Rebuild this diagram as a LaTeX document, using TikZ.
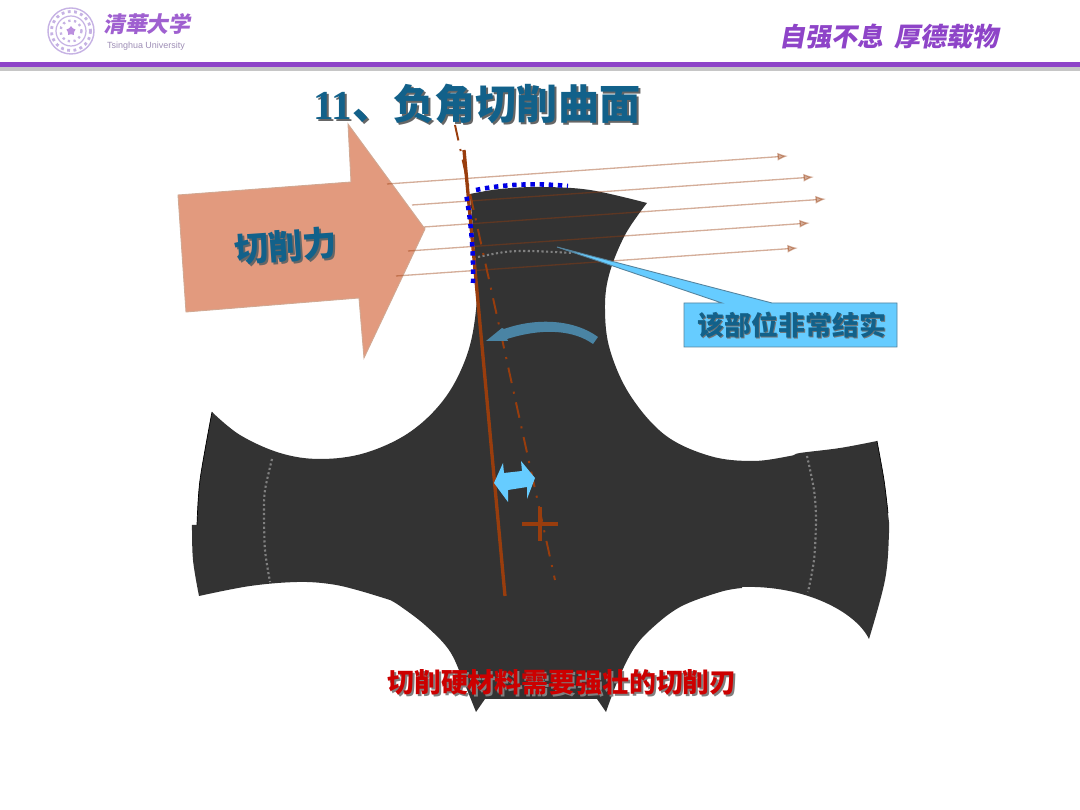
\documentclass[tikz,border=0pt]{standalone}
\usepackage{fontspec}
\usepackage{xcolor}
\setmainfont{Noto Sans CJK SC}
\newfontfamily\cjkslant[FakeSlant=0.18]{Noto Sans CJK SC}
\newfontfamily\latinserif{Liberation Serif}
\newfontfamily\latinsans{Liberation Sans}
\usetikzlibrary{arrows.meta, positioning, shapes.geometric}
\definecolor{mypurple}{HTML}{8E44C8}
\definecolor{mylogo}{HTML}{C6B2E4}
\definecolor{myrust}{HTML}{993D0D}
\definecolor{mygear}{HTML}{333333}
\definecolor{mysalmon}{HTML}{E29A7E}
\definecolor{myteal}{HTML}{12618A}
\definecolor{mysky}{HTML}{66CCFF}
\definecolor{mysteel}{HTML}{4A84A4}

\begin{document}
\begin{tikzpicture}[
  x=0.02cm, y=-0.02cm,
  force/.style={draw=myrust, opacity=0.42, line width=0.75pt, -{Latex[length=6pt,width=4.5pt]}},
  seam/.style={draw=gray, line width=1.2pt, dash pattern=on 1.2pt off 1.4pt},
  edgedots/.style={blue!90!black, line width=2.6pt, dash pattern=on 2.5pt off 2.7pt},
  capt/.style={font=\bfseries, inner sep=0pt}
]
\useasboundingbox (0,0) rectangle (1080,810);
\fill[white] (0,0) rectangle (1080,810);

% Header
\fill[gray!45] (0,67) rectangle (1080,71);
\fill[mypurple] (0,62) rectangle (1080,67);
\draw[mylogo, line width=0.8pt] (71,31) circle (23);
\draw[mylogo, line width=1.6pt, dotted] (71,31) circle (19.5);
\draw[mylogo, line width=0.7pt] (71,31) circle (15);
\draw[mylogo, line width=1.3pt, dotted] (71,31) circle (10.5);
\node[star, fill=mypurple!60, inner sep=0pt, minimum size=5.5pt] (seal) at (71,31) {};
\node[font=\cjkslant\bfseries\fontsize{12.5}{12.5}\selectfont, text=mypurple!85, inner sep=0pt] (logo) at (147,24) {清華大学};
\node[font=\latinsans\fontsize{5.1}{5.1}\selectfont, text=mylogo!80!black, inner sep=0pt] (logoen) at (146,46) {Tsinghua University};
\node[font=\cjkslant\bfseries\fontsize{14.8}{14.8}\selectfont, text=mypurple, inner sep=0pt] (motto) at (889,37) {自强不息\hspace{6pt}厚德载物};

% Title
\node[capt, font=\fontsize{23.4}{23.4}\selectfont\bfseries, text=black!60] (titleb) at (479,106) {{\latinserif 11}、负角切削曲面};
\node[capt, font=\fontsize{23.4}{23.4}\selectfont\bfseries, text=myteal] (title) at (477,104) {{\latinserif 11}、负角切削曲面};

% Gear body
\fill[mygear] plot[smooth, tension=0.6] coordinates {(470,194) (500,189) (540,187) (590,190) (647,203)}
  -- plot[smooth, tension=0.6] coordinates {(647,203) (625,235) (609,275) (605,310) (610,350) (630,395) (665,435) (710,456) (753,461) (790,456) (800,453) (840,448) (877,441)}
  -- plot[smooth, tension=0.6] coordinates {(877,441) (884,480) (888,513) (889,533) (885,580) (869,639)}
  .. controls (856,612) and (805,585) .. (742,587)
  -- plot[smooth, tension=0.6] coordinates {(742,588) (720,592) (680,607) (650,630) (633,650) (618,680) (606,712)}
  -- (597,699) -- (485,699) -- (476,712)
  -- plot[smooth, tension=0.6] coordinates {(476,712) (463,680) (449,650) (425,625) (400,606) (390,600)}
  -- plot[smooth, tension=0.6] coordinates {(390,600) (357,590) (330,584) (297,582) (250,586) (199,596)}
  -- plot[smooth, tension=0.6] coordinates {(199,596) (193,560) (192,525)}
  -- (197,525)
  -- plot[smooth, tension=0.6] coordinates {(197,525) (200,480) (212,412)}
  -- plot[smooth, tension=0.6] coordinates {(212,412) (240,435) (280,453) (320,459) (365,453) (410,432) (445,398) (467,355) (476,310) (476,270) (470,194)}
  -- cycle;
\draw[black, line width=0.4pt] plot[smooth] coordinates {(197,525) (200,480) (212,412)};
\draw[black, line width=0.4pt] plot[smooth] coordinates {(877,441) (884,480) (888,513)};
\draw[seam] plot[smooth] coordinates {(272,459) (265,490) (264,513) (265,550) (270,582)};
\draw[seam] plot[smooth] coordinates {(807,456) (814,490) (816,520) (814,560) (808,592)};
\draw[seam] plot[smooth] coordinates {(478,257) (505,252) (530,251) (573,253)};

% Cutting force
\draw[fill=mysalmon, draw=myrust!45, line width=0.5pt] (178,195) -- (351,182) -- (348,124) -- (425,229) -- (364,358) -- (359,298) -- (186,312) -- cycle;
\node[capt, font=\fontsize{19.5}{19.5}\selectfont\bfseries, text=black!60, rotate=4] (forceb) at (288,248) {切削力};
\node[capt, font=\fontsize{19.5}{19.5}\selectfont\bfseries, text=myteal, rotate=4] (force) at (286,246) {切削力};
\draw[force] (387,184) -- (788,156);
\draw[force] (412,205) -- (814,177);
\draw[force] (424,227) -- (826,199);
\draw[force] (408,251) -- (810,223);
\draw[force] (396,276) -- (798,248);

% Rake line and centre line
\draw[myrust, line width=1.9pt] (464,150) -- (505,596);
\draw[myrust, line width=1.1pt, dash pattern=on 9pt off 5pt on 1.2pt off 5pt] (455,125) -- (555,580);
\draw[myrust, line width=2pt] (522,524) -- (558,524);
\draw[myrust, line width=2pt] (540,507) -- (540,541);

% Cutting edge
\draw[edgedots] (473,283) .. controls (474,250) and (470,215) .. (466,194);
\draw[edgedots] (476,190) .. controls (505,184) and (535,183) .. (568,186);

% Turning arrow and gap arrow
\fill[mysteel] (598,337) -- (593,344) .. controls (575,331) and (545,327) .. (507,339) -- (508,341) -- (486,341) -- (502,328) -- (504,329) .. controls (538,317) and (575,320) .. cycle;
\fill[mysky] (494,483) -- (503,463) -- (504,473) -- (522,471) -- (521,461) -- (535,478) -- (527,499) -- (527,487) -- (508,490) -- (508,502) -- cycle;

% Callout
\draw[fill=mysky, draw=mysteel!80!gray, line width=0.5pt] (684,303) -- (722,303) -- (557,247) -- (772,303) -- (897,303) -- (897,347) -- (684,347) -- cycle;
\node[capt, font=\fontsize{15.3}{15.3}\selectfont\bfseries, text=black!55] (calloutb) at (793,326) {该部位非常结实};
\node[capt, font=\fontsize{15.3}{15.3}\selectfont\bfseries, text=myteal] (callout) at (792,325) {该部位非常结实};

% Note
\node[capt, font=\fontsize{15.3}{15.3}\selectfont\bfseries, text=gray] (noteb) at (564,684) {切削硬材料需要强壮的切削刃};
\node[capt, font=\fontsize{15.3}{15.3}\selectfont\bfseries, text=red!80!black] (note) at (562,682) {切削硬材料需要强壮的切削刃};
\end{tikzpicture}
\end{document}
